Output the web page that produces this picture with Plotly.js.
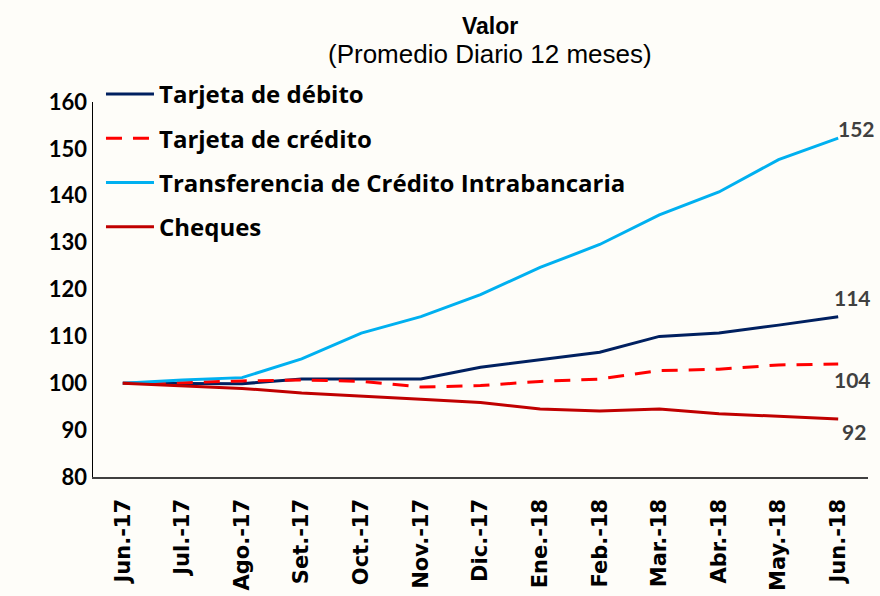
<!DOCTYPE html>
<html>
<head>
<meta charset="utf-8">
<script src="https://cdn.plot.ly/plotly-3.0.1.min.js"></script>
<style>html,body{margin:0;padding:0;background:#fefdf9;}#chart{width:880px;height:596px;}</style>
</head>
<body>
<div id="chart"></div>
<script>
const months = ['Jun.-17','Jul.-17','Ago.-17','Set.-17','Oct.-17','Nov.-17','Dic.-17','Ene.-18','Feb.-18','Mar.-18','Abr.-18','May.-18','Jun.-18'];
const debito = [100, 100.0, 99.9, 100.9, 100.9, 100.9, 103.4, 105.0, 106.6, 110.0, 110.7, 112.4, 114.2];
const credito = [100, 100.1, 100.5, 100.7, 100.4, 99.2, 99.5, 100.4, 100.9, 102.7, 103.0, 103.9, 104.1];
const transferencia = [100, 100.7, 101.2, 105.2, 110.7, 114.2, 118.9, 124.7, 129.6, 135.9, 140.8, 147.7, 152.3];
const cheques = [100, 99.5, 98.9, 97.9, 97.3, 96.6, 95.9, 94.5, 94.1, 94.5, 93.5, 92.9, 92.4];
const seriesNames = ['Tarjeta de débito','Tarjeta de crédito','Transferencia de Crédito Intrabancaria','Cheques'];
const titleText = 'Valor';
const subtitleText = '(Promedio Diario 12 meses)';

const lastIdx = months.length - 1;
const mk = (y, name, color, dash, g) => ({
  x: months, y: y, name: name, type: 'scatter', mode: 'lines',
  line: {color: color, width: 3, dash: dash}, legendgroup: g, hoverinfo: 'skip'
});
const traces = [
  mk(debito, seriesNames[0], '#002060', 'solid', 'a'),
  mk(credito, seriesNames[1], '#ff0000', '16px,11px', 'b'),
  mk(transferencia, seriesNames[2], '#00b0f0', 'solid', 'c'),
  mk(cheques, seriesNames[3], '#c00000', 'solid', 'd')
];
const labelFont = {family: 'Lato, "Open Sans", sans-serif', size: 21, color: '#404040', weight: 'bold'};
const lab = (arr, xs, ys) => ({
  x: months[lastIdx], y: arr[lastIdx], xref: 'x', yref: 'y',
  text: '<b>' + Math.round(arr[lastIdx]) + '</b>', showarrow: false,
  font: labelFont, xshift: xs, yshift: ys
});
const layout = {
  width: 880, height: 596,
  paper_bgcolor: '#fefdf9', plot_bgcolor: '#fefdf9',
  margin: {l: 93, r: 12, t: 102, b: 119},
  showlegend: true,
  legend: {
    x: 0.0103, y: 1.08, xanchor: 'left', yanchor: 'top',
    bgcolor: 'rgba(0,0,0,0)', itemwidth: 48,
    font: {family: '"Open Sans", Lato, sans-serif', size: 24, color: '#000', weight: 'bold'},
    tracegroupgap: 10, traceorder: 'grouped'
  },
  xaxis: {
    type: 'category', range: [-0.5, 12.5], showgrid: false, zeroline: false,
    showline: true, linecolor: '#404040', linewidth: 1.5, ticks: '',
    tickangle: -90, ticklabelstandoff: 12,
    tickfont: {family: '"DejaVu Sans", Verdana, sans-serif', size: 21, color: '#000', weight: 'bold'}
  },
  yaxis: {
    range: [80, 160], dtick: 10, showgrid: false, zeroline: false,
    showline: true, linecolor: '#000', linewidth: 1.5, ticks: '',
    ticklabelstandoff: 0,
    tickfont: {family: 'Lato, "Open Sans", sans-serif', size: 22, color: '#000', weight: 'bold'}
  },
  annotations: [
    {xref: 'paper', yref: 'paper', x: 0.5123, y: 1.203, xanchor: 'center', yanchor: 'middle',
     text: '<b>' + titleText + '</b>', showarrow: false,
     font: {family: '"Liberation Sans", Arial, sans-serif', size: 23, color: '#000'}},
    {xref: 'paper', yref: 'paper', x: 0.5123, y: 1.128, xanchor: 'center', yanchor: 'middle',
     text: subtitleText, showarrow: false,
     font: {family: '"Liberation Sans", Arial, sans-serif', size: 26, color: '#000'}},
    lab(transferencia, 18, 10),
    lab(debito, 14, 19),
    lab(credito, 14, -15),
    lab(cheques, 16, -13)
  ]
};
Plotly.newPlot('chart', traces, layout, {displayModeBar: false, staticPlot: true});
</script>
</body>
</html>
